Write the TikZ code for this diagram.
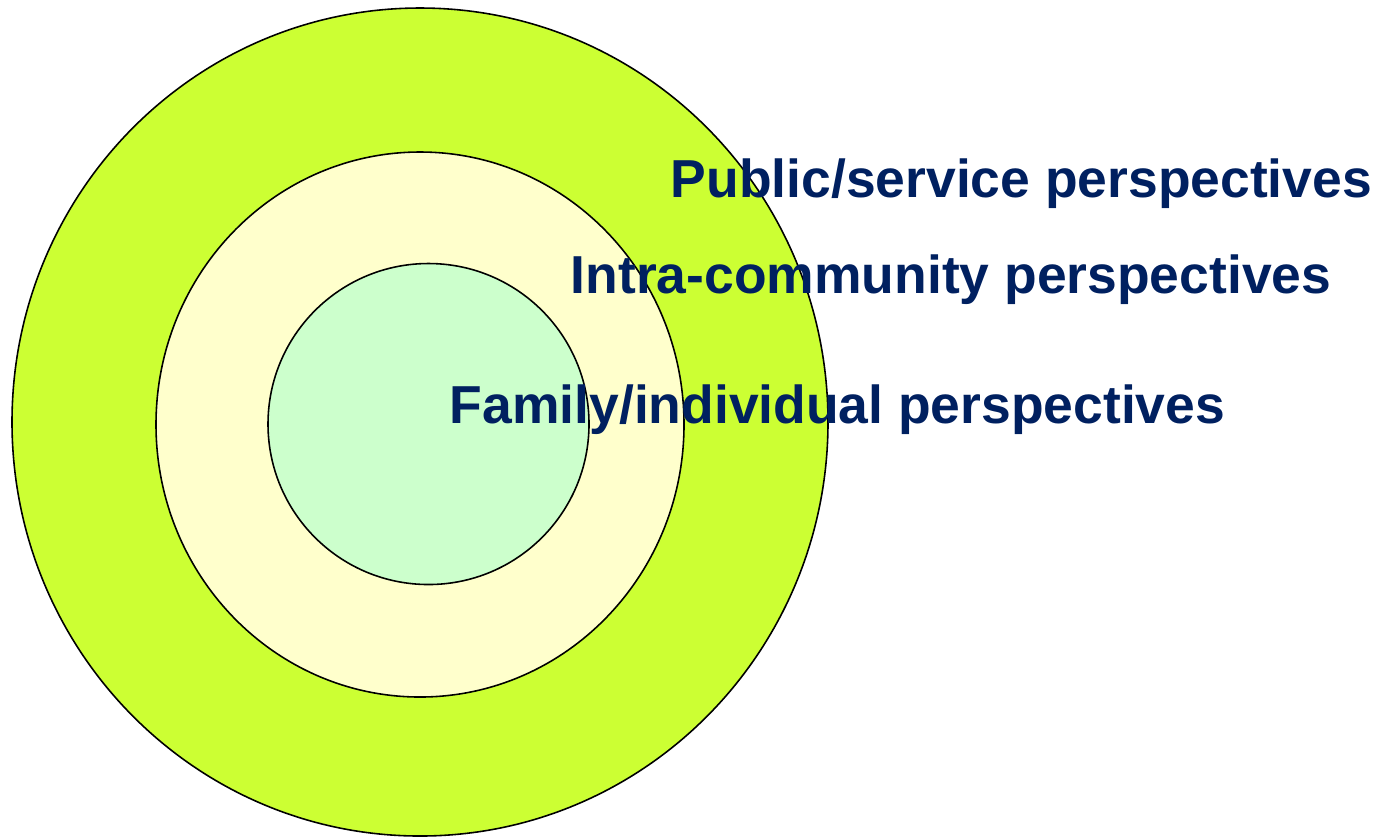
\documentclass[tikz,border=0pt]{standalone}
\usepackage{fontspec}
\setmainfont{Liberation Sans}
\definecolor{navy}{RGB}{0,32,96}
\definecolor{limefill}{RGB}{204,255,51}
\definecolor{creamfill}{RGB}{255,255,204}
\definecolor{mintfill}{RGB}{204,255,204}
\begin{document}
\begin{tikzpicture}[x=0.01cm, y=-0.01cm, line width=0.45pt,
    ring/.style={draw=black},
    label/.style={anchor=base west, inner sep=0pt, text=navy,
      font=\fontsize{15.2pt}{18pt}\selectfont\bfseries}]
    \useasboundingbox (0,0) rectangle (1389,838);
    \draw[ring, fill=limefill] (420,422) ellipse [x radius=408, y radius=414];
    \draw[ring, fill=creamfill] (420,424.5) ellipse [x radius=264, y radius=272.5];
    \draw[ring, fill=mintfill] (428.5,424) circle [radius=160.5];
    \node[label] (public) at (670,197) {Public/service perspectives};
    \node[label] (intra) at (570,293) {Intra-community perspectives};
    \node[label] (family) at (449,423) {Family/individual perspectives};
\end{tikzpicture}
\end{document}
